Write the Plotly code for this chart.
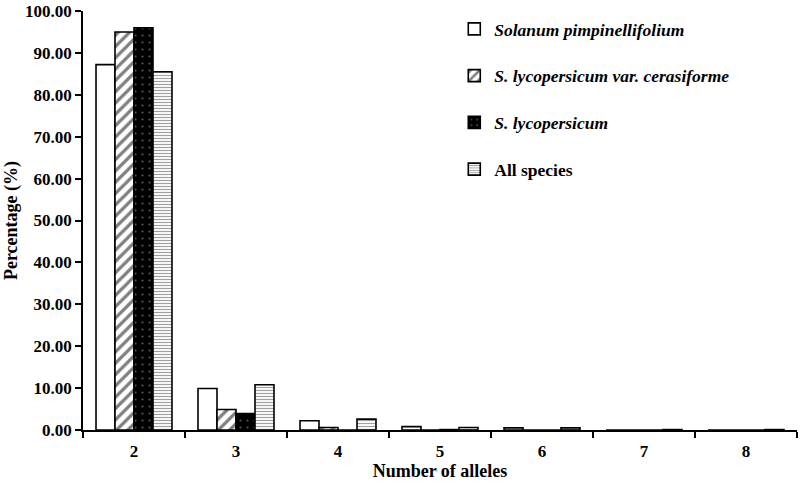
import plotly.graph_objects as go

categories = ["2", "3", "4", "5", "6", "7", "8"]
pimpinellifolium = [87.2, 9.9, 2.2, 0.8, 0.5, 0.0, 0.0]
cerasiforme = [95.0, 4.9, 0.6, 0.0, 0.0, 0.0, 0.0]
lycopersicum = [96.0, 3.9, 0.0, 0.1, 0.0, 0.0, 0.0]
all_species = [85.5, 10.8, 2.6, 0.6, 0.5, 0.1, 0.1]
y_ticks = [0, 10, 20, 30, 40, 50, 60, 70, 80, 90, 100]

FONT = "Liberation Serif"
line = dict(color="black", width=1.6)

fig = go.Figure()
fig.add_trace(go.Bar(
    x=categories, y=pimpinellifolium, name="<i>Solanum pimpinellifolium</i>",
    legendgroup="a",
    marker=dict(color="white", line=line)))
fig.add_trace(go.Bar(
    x=categories, y=cerasiforme, name="<i>S. lycopersicum var. cerasiforme</i>",
    legendgroup="b",
    marker=dict(color="white", line=line,
                pattern=dict(shape="/", fgcolor="black", bgcolor="white", size=8, solidity=0.4))))
fig.add_trace(go.Bar(
    x=categories, y=lycopersicum, name="<i>S. lycopersicum</i>",
    legendgroup="c",
    marker=dict(color="black", line=line,
                pattern=dict(shape=".", fgcolor="#aaaaaa", bgcolor="black", size=7, solidity=0.08))))
fig.add_trace(go.Bar(
    x=categories, y=all_species, name="All species",
    legendgroup="d",
    marker=dict(color="white", line=line,
                pattern=dict(shape="-", fgcolor="#444444", bgcolor="white", size=3, solidity=0.4))))

fig.update_layout(
    width=800, height=484,
    margin=dict(l=83, r=3, t=11, b=54),
    paper_bgcolor="white", plot_bgcolor="white",
    barmode="group", bargap=0.255, bargroupgap=0,
    font=dict(family=FONT, color="black", size=16),
    showlegend=True,
    legend=dict(x=0.52, y=1.0, xanchor="left", yanchor="top",
                font=dict(family=FONT, size=17.5, color="black", weight="bold"),
                tracegroupgap=21, bgcolor="rgba(0,0,0,0)"),
    xaxis=dict(
        type="category", showline=True, linecolor="black", linewidth=1.5, automargin=False,
        ticks="outside", tickson="boundaries", ticklen=6, tickcolor="black", tickwidth=1.5,
        ticklabelstandoff=5,
        tickfont=dict(family=FONT, size=17, weight="bold"),
        title=dict(text="Number of alleles", font=dict(family=FONT, size=18, weight="bold"), standoff=2),
        showgrid=False, zeroline=False),
    yaxis=dict(
        range=[0, 100], tickvals=y_ticks, tickformat=".2f", automargin=False,
        showline=True, linecolor="black", linewidth=1.5,
        ticks="outside", ticklen=6, tickcolor="black", tickwidth=1.5,
        ticklabeloverflow="allow",
        tickfont=dict(family=FONT, size=17, weight="bold"),
        title=dict(text="Percentage (%)", font=dict(family=FONT, size=18, weight="bold"), standoff=3),
        showgrid=False, zeroline=False),
)

fig.write_html("out.html", config={"displayModeBar": False},
               post_script="document.body.style.margin='0px';")
